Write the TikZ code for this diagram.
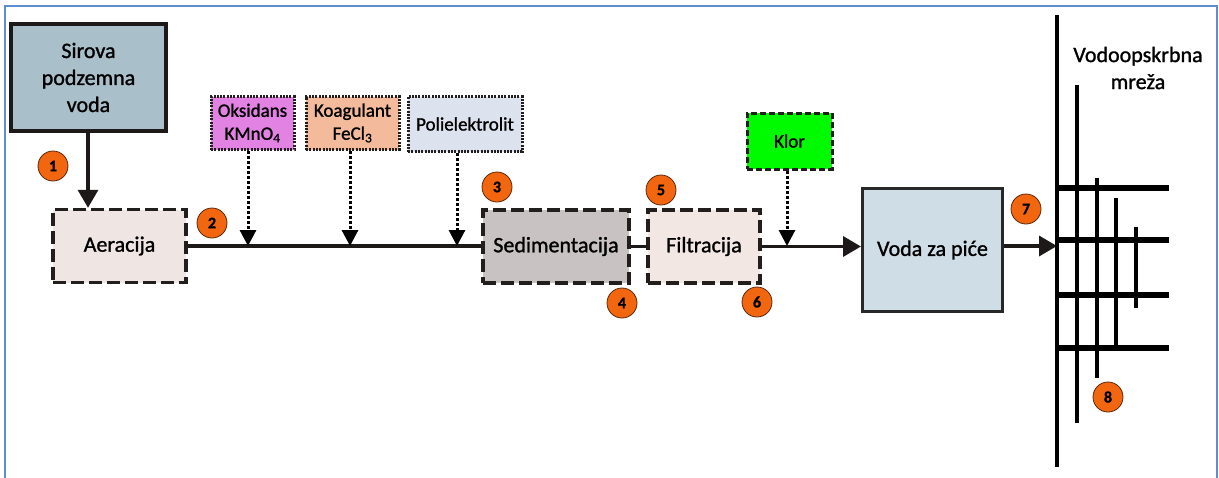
\documentclass[tikz,border=0pt]{standalone}
\usepackage{fontspec}
\setmainfont{Carlito}[FakeBold=1.2]
\usetikzlibrary{positioning,arrows.meta}

\tikzset{
  proc/.style={draw={rgb, 255:red, 35; green, 30; blue, 30 }, line width=3.5pt, dash pattern=on 13pt off 5pt, minimum height=73pt, font=\fontsize{22}{27}\selectfont},
  chem/.style={draw={rgb, 255:red, 35; green, 30; blue, 30 }, line width=3pt, dash pattern=on 2pt off 1.3pt, align=center, font=\fontsize{19}{23}\selectfont, inner sep=1pt},
  badge/.style={circle, fill={rgb, 255:red, 242; green, 102; blue, 16 }, draw={rgb, 255:red, 90; green, 40; blue, 10 }, line width=0.8pt, minimum size=30pt, inner sep=0pt, font=\bfseries\fontsize{16}{16}\selectfont},
  pipe/.style={line width=3.5pt, draw={rgb, 255:red, 30; green, 25; blue, 25 }},
  feed/.style={line width=3pt, dotted, -{Triangle[length=16pt,width=16pt]}},
  flow/.style={pipe, -{Triangle[length=18pt,width=20pt]}}
}

\begin{document}
\begin{tikzpicture}[x=1pt,y=1pt,yscale=-1,xscale=1]
\useasboundingbox (0,0) rectangle (1219,477);

%Shape: Frame
\draw [color={rgb, 255:red, 95; green, 140; blue, 210 }, line width=2.5pt] (5,480) -- (5,6) -- (1217,6) -- (1217,480);

%Shape: Rectangle
\node [draw={rgb, 255:red, 30; green, 25; blue, 25 }, line width=4pt, fill={rgb, 255:red, 169; green, 192; blue, 202 }, minimum width=155pt, minimum height=107pt, align=center, font=\fontsize{22}{27}\selectfont] (sirova) at (88.5,77.5) {Sirova\\podzemna\\voda};
\node [proc, fill={rgb, 255:red, 239; green, 230; blue, 228 }, minimum width=133pt] (aer) at (119.5,246) {Aeracija};
\node [proc, fill={rgb, 255:red, 200; green, 194; blue, 194 }, minimum width=146pt] (sed) at (556,246.5) {Sedimentacija};
\node [proc, fill={rgb, 255:red, 243; green, 231; blue, 228 }, minimum width=112pt] (fil) at (704,246.5) {Filtracija};
\node [draw={rgb, 255:red, 40; green, 40; blue, 40 }, line width=3pt, fill={rgb, 255:red, 207; green, 222; blue, 230 }, minimum width=140pt, minimum height=123pt, font=\fontsize{22}{27}\selectfont] (voda) at (932.5,250) {Voda za piće};

%Shape: Chemicals
\node [chem, fill={rgb, 255:red, 226; green, 130; blue, 226 }, minimum width=83pt, minimum height=53pt] (oks) at (252.5,123) {Oksidans\\KMnO\textsubscript{4}};
\node [chem, fill={rgb, 255:red, 243; green, 186; blue, 156 }, minimum width=93pt, minimum height=53pt] (koag) at (352.5,123) {Koagulant\\FeCl\textsubscript{3}};
\node [chem, fill={rgb, 255:red, 220; green, 227; blue, 238 }, minimum width=114pt, minimum height=55pt] (poli) at (465,124) {Polielektrolit};
\node [chem, dash pattern=on 6pt off 3pt, fill={rgb, 255:red, 0; green, 250; blue, 0 }, minimum width=85pt, minimum height=56pt] (klor) at (789.5,141) {Klor};

%Shape: Dosing points
\coordinate (d1) at (248,246);
\coordinate (d2) at (350,246);
\coordinate (d3) at (457,246);
\coordinate (d4) at (787,246);
\coordinate (net) at (1057,246);

%Connectors
\draw [flow] (sirova.south -| 88,0) -- (aer.north -| 88,0);
\draw [pipe] (aer.east) -- (sed.west |- aer.east);
\draw [pipe] (sed.east) -- (fil.west);
\draw [flow] (fil.east) -- (voda.west |- fil.east);
\draw [flow] (voda.east |- net) -- (net);
\draw [feed] (oks.south -| d1) -- (d1);
\draw [feed] (koag.south -| d2) -- (d2);
\draw [feed] (poli.south -| d3) -- (d3);
\draw [feed] (klor.south -| d4) -- (d4);

%Shape: Network
\draw [line width=4pt] (1057,15) -- (1057,467);
\foreach \y in {188,240,295,348}
  \draw [line width=6pt] (1057,\y) -- (1169,\y);
\foreach \x/\a/\b in {1077/85/423, 1097/178/378, 1116/198/345, 1136/227/308}
  \draw [line width=4pt] (\x,\a) -- (\x,\b);

% Text Node
\node [align=center, font=\fontsize{22}{27}\selectfont] (mreza) at (1138,68) {Vodoopskrbna\\mreža};

% Badges
\node [badge] (b1) at (53,166) {1};
\node [badge] (b2) at (212,223) {2};
\node [badge] (b3) at (497,187) {3};
\node [badge] (b4) at (622,303) {4};
\node [badge] (b5) at (661,190) {5};
\node [badge] (b6) at (757,302) {6};
\node [badge] (b7) at (1026,209) {7};
\node [badge] (b8) at (1108,397) {8};

\end{tikzpicture}
\end{document}
